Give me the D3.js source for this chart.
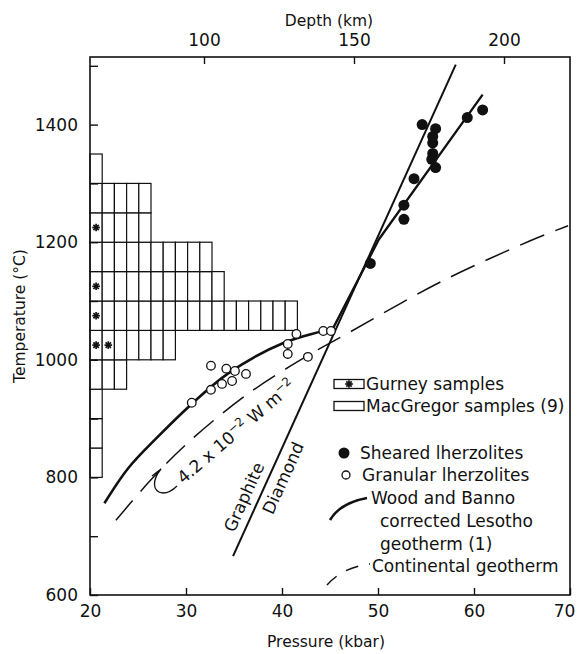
<!DOCTYPE html>
<html>
<head>
<meta charset="utf-8">
<script src="https://cdn.jsdelivr.net/npm/d3@7"></script>
<style>
body { margin: 0; background: #fff; }
svg { font-family: "DejaVu Sans", sans-serif; }
</style>
</head>
<body>
<svg id="chart" width="579" height="654"></svg>
<script>
// Histogram: 50 degC bins, one cell per sample
var binLow = [800, 850, 900, 950, 1000, 1050, 1100, 1150, 1200, 1250, 1300];
var macCounts = [1, 1, 1, 3, 7, 17, 11, 10, 5, 5, 1];
var gurneyBins = [1000, 1050, 1100, 1200];
var gurneyCounts = [2, 1, 1, 1];

// Pressure (kbar), temperature (degC)
var shearedP = [60.9, 59.3, 54.6, 56.0, 55.7, 55.7, 55.7, 55.6, 56.0, 53.75, 52.7, 52.7, 49.2];
var shearedT = [1425, 1412, 1400, 1393, 1380, 1369, 1351, 1341, 1327, 1308, 1263, 1239, 1164];
var granularP = [32.6, 34.2, 35.1, 36.25, 34.8, 33.75, 32.6, 30.6, 40.6, 40.6, 42.7, 41.5, 44.3, 45.1];
var granularT = [990, 985, 981, 976, 964, 959, 949, 927, 1027, 1010, 1005, 1044, 1049, 1049];

var geothermCurve = [[21.5, 756], [24, 816], [27, 868], [30.4, 922], [34.4, 977], [40.2, 1029], [45.3, 1053]];
var geothermSheared = [[45.3, 1053], [50.1, 1205], [60.9, 1451]];
var continental = [[22.7, 727], [26.3, 795], [30.4, 862], [36.7, 945], [43.2, 1012], [46.4, 1041], [56.7, 1134], [65.8, 1202], [69.8, 1228]];
var graphiteDiamond = [[34.9, 666], [58.1, 1502]];

var pressureTicks = [20, 30, 40, 50, 60, 70];
var tempTicks = [600, 700, 800, 900, 1000, 1100, 1200, 1300, 1400, 1500];
var depthTicks = [100, 150, 200];

var svg = d3.select("#chart");
var ink = "#111";
var fontStack = "DejaVu Sans, sans-serif";

var x = d3.scaleLinear().domain([20, 70]).range([90, 570]);
var y = d3.scaleLinear().domain([600, 1515]).range([595, 57]);
var depth = d3.scaleLinear().domain([62, 222]).range([90, 570]);
var countX = d3.scaleLinear().domain([0, 1]).range([x(20), x(20) + 12.2]);

var styleAxis = function(g) {
	g.select(".domain").remove();
	g.attr("font-size", 17).attr("font-family", fontStack);
	g.selectAll(".tick line").attr("stroke", ink).attr("stroke-width", 1.4);
	g.selectAll(".tick text").attr("fill", ink);
};

// histogram cells
var cells = [];
binLow.forEach(function(b, i) {
	for (var c = 0; c < macCounts[i]; c++) cells.push({bin: b, col: c});
});
svg.append("g").selectAll("rect").data(cells).join("rect")
	.attr("x", function(d) { return countX(d.col); })
	.attr("y", function(d) { return y(d.bin + 50); })
	.attr("width", countX(1) - countX(0))
	.attr("height", function(d) { return y(d.bin) - y(d.bin + 50); })
	.attr("fill", "#fff").attr("stroke", ink).attr("stroke-width", 1.2);

var drawStar = function(g, cx, cy) {
	[0, 45, 90, 135].forEach(function(a) {
		var r = 3.8, rad = a * Math.PI / 180;
		g.append("line")
			.attr("x1", cx - r * Math.cos(rad)).attr("y1", cy - r * Math.sin(rad))
			.attr("x2", cx + r * Math.cos(rad)).attr("y2", cy + r * Math.sin(rad))
			.attr("stroke", ink).attr("stroke-width", 1.7);
	});
};

var stars = svg.append("g");
gurneyBins.forEach(function(b, i) {
	for (var c = 0; c < gurneyCounts[i]; c++)
		drawStar(stars, (countX(c) + countX(c + 1)) / 2, (y(b) + y(b + 50)) / 2);
});

// frame and axes
svg.append("rect")
	.attr("x", x(20)).attr("y", y(1515))
	.attr("width", x(70) - x(20)).attr("height", y(600) - y(1515))
	.attr("fill", "none").attr("stroke", ink).attr("stroke-width", 1.6);

var gx = svg.append("g").attr("transform", "translate(0," + y(600) + ")")
	.call(d3.axisBottom(x).tickValues(pressureTicks).tickSizeInner(-7).tickSizeOuter(0).tickPadding(10))
	.call(styleAxis);
gx.selectAll(".tick text").filter(function(d) { return d === 70; }).attr("dx", -6);

svg.append("g").attr("transform", "translate(" + x(20) + ",0)")
	.call(d3.axisLeft(y).tickValues(tempTicks).tickSizeInner(-8).tickSizeOuter(0).tickPadding(12)
		.tickFormat(function(d) { return d % 200 === 0 && d < 1500 ? d : ""; }))
	.call(styleAxis);

svg.append("g").attr("transform", "translate(0," + y(1515) + ")")
	.call(d3.axisTop(depth).tickValues(depthTicks).tickSizeInner(-7).tickSizeOuter(0).tickPadding(11))
	.call(styleAxis);

svg.append("text").attr("x", 329).attr("y", 26).attr("text-anchor", "middle")
	.attr("font-size", 15.5).attr("fill", ink).text("Depth (km)");
svg.append("text").attr("x", 326).attr("y", 647).attr("text-anchor", "middle")
	.attr("font-size", 15.5).attr("fill", ink).text("Pressure (kbar)");
svg.append("text").attr("transform", "translate(25,316) rotate(-90)").attr("text-anchor", "middle")
	.attr("font-size", 15.5).attr("fill", ink).text("Temperature (\u00b0C)");

// curves
var line = d3.line().x(function(d) { return x(d[0]); }).y(function(d) { return y(d[1]); });

svg.append("path").datum(continental)
	.attr("d", line.curve(d3.curveCatmullRom))
	.attr("fill", "none").attr("stroke", ink).attr("stroke-width", 1.5)
	.attr("stroke-dasharray", "26,12");

svg.append("path").datum(graphiteDiamond)
	.attr("d", line.curve(d3.curveLinear))
	.attr("fill", "none").attr("stroke", ink).attr("stroke-width", 2);

svg.append("path").datum(geothermCurve)
	.attr("d", line.curve(d3.curveCatmullRom))
	.attr("fill", "none").attr("stroke", ink).attr("stroke-width", 2.6);
svg.append("path").datum(geothermSheared)
	.attr("d", line.curve(d3.curveLinear))
	.attr("fill", "none").attr("stroke", ink).attr("stroke-width", 2.3)
	.attr("stroke-linejoin", "round");

// points
svg.append("g").selectAll("circle").data(granularP).join("circle")
	.attr("cx", function(d) { return x(d); })
	.attr("cy", function(d, i) { return y(granularT[i]); })
	.attr("r", 4.3).attr("fill", "#fff").attr("stroke", ink).attr("stroke-width", 1.3);

svg.append("g").selectAll("circle").data(shearedP).join("circle")
	.attr("cx", function(d) { return x(d); })
	.attr("cy", function(d, i) { return y(shearedT[i]); })
	.attr("r", 5.5).attr("fill", ink);

// annotations
var angGD = -65.66;
svg.append("text").attr("transform", "translate(249.5,499.5) rotate(" + angGD + ")")
	.attr("text-anchor", "middle").attr("font-size", 17).attr("fill", ink).text("Graphite");
svg.append("text").attr("transform", "translate(288.5,480.5) rotate(" + angGD + ")")
	.attr("text-anchor", "middle").attr("font-size", 17).attr("fill", ink).text("Diamond");

var flux = svg.append("text").attr("transform", "translate(240,436) rotate(-40.6)")
	.attr("text-anchor", "middle").attr("font-size", 17).attr("fill", ink);
flux.append("tspan").text("4.2 x 10");
flux.append("tspan").attr("dy", -7).attr("font-size", 12).text("\u22122");
flux.append("tspan").attr("dy", 7).text(" W m");
flux.append("tspan").attr("dy", -7).attr("font-size", 12).text("\u22122");

svg.append("path").attr("d", "M152,476 L161,469 C152,480 152,492 163,493 C169,493 174,489 177,486")
	.attr("fill", "none").attr("stroke", ink).attr("stroke-width", 1.3);

// legend
var leg = svg.append("g").attr("font-size", 17).attr("fill", ink);
leg.append("rect").attr("x", 334).attr("y", 379.5).attr("width", 30).attr("height", 9)
	.attr("fill", "#fff").attr("stroke", ink).attr("stroke-width", 1.3);
drawStar(leg, 349, 384);
leg.append("text").attr("x", 366).attr("y", 390).text("Gurney samples");
leg.append("rect").attr("x", 334).attr("y", 401.5).attr("width", 30).attr("height", 9)
	.attr("fill", "#fff").attr("stroke", ink).attr("stroke-width", 1.3);
leg.append("text").attr("x", 366).attr("y", 412).text("MacGregor samples (9)");

leg.append("circle").attr("cx", 344).attr("cy", 453).attr("r", 5.5).attr("fill", ink);
leg.append("text").attr("x", 360).attr("y", 459).text("Sheared lherzolites");
leg.append("circle").attr("cx", 346).attr("cy", 475).attr("r", 4).attr("fill", "#fff")
	.attr("stroke", ink).attr("stroke-width", 1.3);
leg.append("text").attr("x", 362).attr("y", 481).text("Granular lherzolites");

leg.append("path").attr("d", "M330,520 Q340,503 367,498")
	.attr("fill", "none").attr("stroke", ink).attr("stroke-width", 2.6);
leg.append("text").attr("x", 371).attr("y", 504).text("Wood and Banno");
leg.append("text").attr("x", 380).attr("y", 527).text("corrected Lesotho");
leg.append("text").attr("x", 380).attr("y", 550).text("geotherm (1)");

leg.append("path").attr("d", "M327,585 Q343,567 370,564")
	.attr("fill", "none").attr("stroke", ink).attr("stroke-width", 1.5)
	.attr("stroke-dasharray", "13,11");
leg.append("text").attr("x", 372).attr("y", 572).text("Continental geotherm");
</script>
</body>
</html>
